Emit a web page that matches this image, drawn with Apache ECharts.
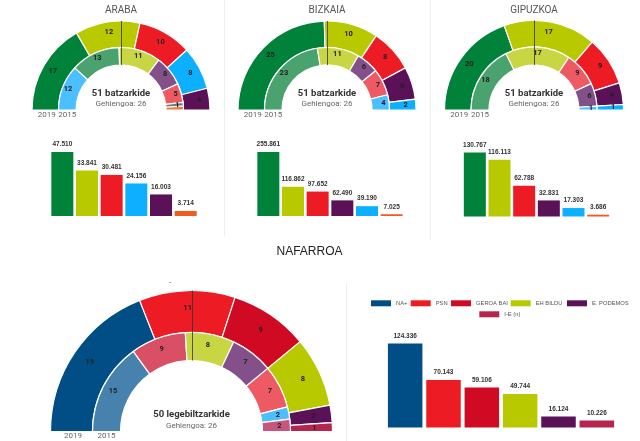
<!DOCTYPE html>
<html>
<head>
<meta charset="utf-8">
<title>Hauteskundeak</title>
<style>
  html, body { margin: 0; padding: 0; background: #fff; }
  #chart { width: 640px; height: 441px; }
</style>
<script src="https://cdn.jsdelivr.net/npm/echarts@6/dist/echarts.min.js"></script>
</head>
<body>
<div id="chart"></div>
<script>
// seats, ring by ring
const arabaParties2019 = ['EAJ-PNV', 'EH Bildu', 'PSE', 'PP', 'Podemos']
const arabaSeats2019 = [17, 12, 10, 8, 4]
const arabaParties2015 = ['PP', 'EAJ-PNV', 'EH Bildu', 'Podemos', 'PSE', 'Irabazi', 'Orange']
const arabaSeats2015 = [12, 13, 11, 8, 5, 1, 1]

const bizkaiaParties2019 = ['EAJ-PNV', 'EH Bildu', 'PSE', 'Podemos', 'PP']
const bizkaiaSeats2019 = [25, 10, 8, 6, 2]
const bizkaiaParties2015 = ['EAJ-PNV', 'EH Bildu', 'Podemos', 'PSE', 'PP']
const bizkaiaSeats2015 = [23, 11, 6, 7, 4]

const gipuzkoaParties2019 = ['EAJ-PNV', 'EH Bildu', 'PSE', 'Podemos', 'PP']
const gipuzkoaSeats2019 = [20, 17, 9, 4, 1]
const gipuzkoaParties2015 = ['EAJ-PNV', 'EH Bildu', 'PSE', 'Podemos', 'PP']
const gipuzkoaSeats2015 = [18, 17, 9, 6, 1]

const nafarroaParties2019 = ['NA+', 'PSN', 'GEROA BAI', 'EH BILDU', 'E. PODEMOS', 'I-E (n)']
const nafarroaSeats2019 = [19, 11, 9, 8, 2, 1]
const nafarroaParties2015 = ['UPN', 'GEROA', 'BILDU', 'PODEMOS', 'PSN', 'PP', 'I-E']
const nafarroaSeats2015 = [15, 9, 8, 7, 7, 2, 2]

// votes
const arabaVoteParties = ['EAJ-PNV', 'EH Bildu', 'PSE', 'PP', 'Podemos', 'Orange']
const arabaVotes = [47510, 33841, 30481, 24156, 16003, 3714]
const bizkaiaVoteParties = ['EAJ-PNV', 'EH Bildu', 'PSE', 'Podemos', 'PP', 'Orange']
const bizkaiaVotes = [255861, 116862, 97652, 62490, 39190, 7025]
const gipuzkoaVoteParties = ['EAJ-PNV', 'EH Bildu', 'PSE', 'Podemos', 'PP', 'Orange']
const gipuzkoaVotes = [130767, 116113, 62788, 32831, 17303, 3686]
const nafarroaVoteParties = ['NA+', 'PSN', 'GEROA BAI', 'EH BILDU', 'E. PODEMOS', 'I-E (n)']
const nafarroaVotes = [124336, 70143, 59106, 49744, 16124, 10226]

const colors2019 = {
  'EAJ-PNV': '#00823a', 'EH Bildu': '#b8c900', 'PSE': '#ed1c24', 'PP': '#0cb0ff', 'Podemos': '#5a1157', 'Orange': '#f15a22',
  'NA+': '#004e85', 'PSN': '#ed1c24', 'GEROA BAI': '#cf0a22', 'EH BILDU': '#b8c900', 'E. PODEMOS': '#5a1157', 'I-E (n)': '#b5254e'
}
const colors2015 = {
  'EAJ-PNV': '#4aa26e', 'EH Bildu': '#c8d643', 'PSE': '#ee5a63', 'PP': '#4bbfff', 'Podemos': '#835089', 'Irabazi': '#777777', 'Orange': '#ee7a3c',
  'UPN': '#4682ad', 'GEROA': '#d94f66', 'BILDU': '#c8d643', 'PODEMOS': '#835089', 'PSN': '#ee5a63', 'I-E': '#c7567f'
}

const series = []
const titles = []
const grids = []
const xAxes = []
const yAxes = []
const lines = []

function addText(text, x, y, size, color, weight, family) {
  titles.push({
    text: text, left: x, top: y - size * 0.6, textAlign: 'center', padding: 0,
    textStyle: { fontSize: size, color: color, fontWeight: weight || 'normal', fontFamily: family || 'Roboto' }
  })
}

function addLine(x, y1, y2, stroke, opacity) {
  lines.push({
    type: 'line', silent: true, z: 20,
    shape: { x1: x, y1: y1, x2: x, y2: y2 },
    style: { stroke: stroke, lineWidth: 1, opacity: opacity }
  })
}

function addRing(names, seats, palette, cx, cy, r0, r1) {
  series.push({
    type: 'pie',
    silent: true,
    center: [cx, cy],
    radius: [r0, r1],
    startAngle: 180,
    endAngle: 0,
    avoidLabelOverlap: false,
    label: { show: true, position: 'inner', formatter: '{c}', fontSize: 7.5, fontWeight: 'bold', color: '#222', fontFamily: 'Roboto' },
    labelLine: { show: false },
    itemStyle: { borderColor: '#fff', borderWidth: 1.2 },
    data: seats.map((v, i) => ({ name: names[i], value: v, itemStyle: { color: palette[names[i]] } }))
  })
}

function addHemicycle(o) {
  addRing(o.names2019, o.seats2019, colors2019, o.cx, o.cy, o.rMid, o.rOut)
  addRing(o.names2015, o.seats2015, colors2015, o.cx, o.cy, o.rIn, o.rMid)
  addLine(o.lineX, o.cy - o.rOut, o.cy - o.rIn, '#333', 0.8)
  addText(o.total, o.cx, o.cy - 16, o.totalSize, '#333', 'bold')
  addText('Gehiengoa: 26', o.cx, o.cy - 5, 8, '#666')
  addText('2019', o.cx - (o.rOut + o.rMid) / 2 + 1.5, o.cy + o.yearDy, 8, '#666')
  addText('2015', o.cx - (o.rMid + o.rIn) / 2, o.cy + o.yearDy, 8, '#666')
}

function addBars(names, votes, left, top, width, height, barWidth) {
  const g = grids.length
  grids.push({ left: left, top: top, width: width, height: height })
  xAxes.push({ type: 'category', gridIndex: g, show: false, data: names })
  yAxes.push({ type: 'value', gridIndex: g, show: false, min: 0, max: 'dataMax' })
  names.forEach((n, i) => {
    series.push({
      type: 'bar',
      name: n,
      stack: 'votes' + g,
      xAxisIndex: g,
      yAxisIndex: g,
      barWidth: barWidth,
      silent: true,
      itemStyle: { color: colors2019[n] },
      label: {
        show: true, position: 'top', distance: 4,
        formatter: p => String(p.value).replace(/\B(?=(\d{3})+$)/g, '.'),
        fontSize: 6.5, fontWeight: 'bold', color: '#333', fontFamily: 'Liberation Sans'
      },
      data: votes.map((v, j) => (j === i ? v : null))
    })
  })
}

addText('ARABA', 121, 11, 10, '#555')
addText('BIZKAIA', 327, 11, 10, '#555')
addText('GIPUZKOA', 534, 11, 10, '#555')
addText('NAFARROA', 309.5, 253, 12, '#222', 'normal', 'Liberation Sans')
addText('-', 170, 284, 8, '#666')

addHemicycle({ names2019: arabaParties2019, seats2019: arabaSeats2019, names2015: arabaParties2015, seats2015: arabaSeats2015, cx: 121, cy: 110, rOut: 89, rMid: 62.5, rIn: 45, lineX: 121.5, total: '51 batzarkide', totalSize: 9.5, yearDy: 6 })
addHemicycle({ names2019: bizkaiaParties2019, seats2019: bizkaiaSeats2019, names2015: bizkaiaParties2015, seats2015: bizkaiaSeats2015, cx: 327, cy: 110, rOut: 89, rMid: 62.5, rIn: 45, lineX: 327.5, total: '51 batzarkide', totalSize: 9.5, yearDy: 6 })
addHemicycle({ names2019: gipuzkoaParties2019, seats2019: gipuzkoaSeats2019, names2015: gipuzkoaParties2015, seats2015: gipuzkoaSeats2015, cx: 534, cy: 110, rOut: 89.5, rMid: 63, rIn: 45, lineX: 534.5, total: '51 batzarkide', totalSize: 9.5, yearDy: 6 })
addHemicycle({ names2019: nafarroaParties2019, seats2019: nafarroaSeats2019, names2015: nafarroaParties2015, seats2015: nafarroaSeats2015, cx: 191.5, cy: 431.5, rOut: 141, rMid: 99, rIn: 71, lineX: 192.5, total: '50 legebiltzarkide', totalSize: 9.5, yearDy: 5.5 })

addBars(arabaVoteParties, arabaVotes, 50, 152, 148, 64, 22)
addBars(bizkaiaVoteParties, bizkaiaVotes, 256, 152, 148, 64, 22)
addBars(gipuzkoaVoteParties, gipuzkoaVotes, 462.5, 152.5, 148, 64, 22)
addBars(nafarroaVoteParties, nafarroaVotes, 386, 343.5, 230, 84, 34.5)

// faint panel dividers
addLine(224.5, 0, 236, '#eeeeee', 1)
addLine(430.5, 0, 240, '#eeeeee', 1)
addLine(346.5, 283, 441, '#eeeeee', 1)

// one legend per entry, the reference wraps and centres its last row
const legendSpots = [[371, 300.3], [410.7, 300.3], [451, 300.3], [510.7, 300.3], [567, 300.3], [479.3, 311.3]]

const chart = echarts.init(document.getElementById('chart'))
chart.setOption({
  animation: false,
  backgroundColor: '#fff',
  title: titles,
  grid: grids,
  xAxis: xAxes,
  yAxis: yAxes,
  legend: nafarroaVoteParties.map((n, i) => ({
    left: legendSpots[i][0], top: legendSpots[i][1], padding: 0,
    itemWidth: 20, itemHeight: 6, selectedMode: false, icon: 'rect',
    textStyle: { fontSize: 5.8, color: '#555', fontFamily: 'Liberation Sans' },
    data: [n]
  })),
  series: series,
  graphic: lines
})
</script>
</body>
</html>
